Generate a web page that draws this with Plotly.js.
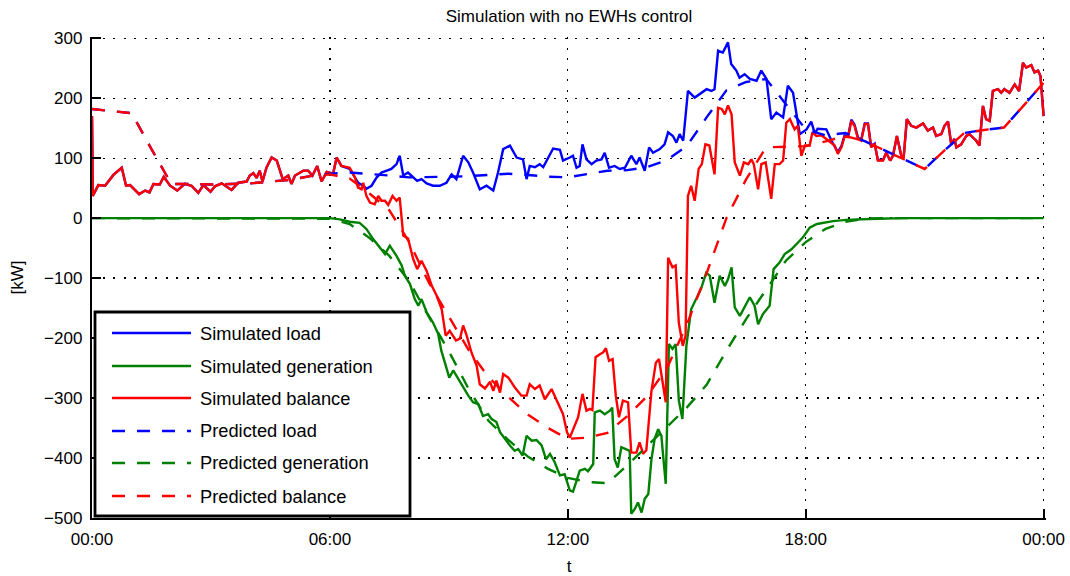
<!DOCTYPE html>
<html>
<head>
<meta charset="utf-8">
<script src="https://cdn.plot.ly/plotly-3.0.1.min.js"></script>
<style>html,body{margin:0;padding:0;background:#fff;}#chart{width:1070px;height:576px;}</style>
</head>
<body>
<div id="chart"></div>
<script>
// ---------- DATA (hours of day, kW) ----------
const tLoad = [0,0.02,0.16,0.33,0.54,0.75,0.86,0.96,1.19,1.34,1.45,1.55,1.71,1.81,1.97,2.15,2.34,2.51,2.68,2.81,2.99,3.10,3.27,3.52,3.69,3.90,3.98,4.07,4.15,4.23,4.30,4.40,4.53,4.66,4.81,4.95,5.03,5.12,5.33,5.45,5.56,5.68,5.79,5.92,6.08,6.17,6.29,6.50,
  6.71,6.84,6.92,7.05,7.18,7.30,7.55,7.68,7.76,7.85,7.97,8.10,8.20,8.31,8.44,8.60,8.77,8.94,9.07,9.19,9.36,9.49,9.61,9.78,9.95,10.12,10.24,10.37,10.54,10.71,10.87,10.96,11.04,11.17,11.29,11.38,11.50,11.63,11.80,11.88,
  12.05,12.13,12.22,12.30,12.37,12.47,12.60,12.72,12.85,12.93,13.04,13.18,13.31,13.44,13.60,13.73,13.81,13.94,14.05,14.15,14.32,14.44,14.53,14.65,14.74,14.82,14.91,15.03,15.20,15.33,15.50,15.62,15.70,15.79,15.91,16.04,16.12,16.25,16.33,16.46,16.59,16.76,16.88,17.01,17.13,17.26,17.43,17.55,17.68,17.85,18.02,18.14,18.23,18.30,18.52,18.65,
  18.81,18.90,18.98,19.07,19.15,19.23,19.32,19.40,19.49,19.57,19.65,19.74,19.82,19.95,20.03,20.13,20.20,20.30,20.41,20.47,20.55,20.66,20.79,20.96,21.08,21.21,21.29,21.42,21.50,21.59,21.67,21.75,21.80,21.92,22.05,22.13,22.30,22.38,22.47,22.55,22.64,22.72,22.85,22.93,23.01,23.14,23.27,23.38,23.48,23.56,23.69,23.77,23.86,23.92,24.00];
const simLoad = [170,37,55,54,72,84,54,55,40,46,43,57,56,69,54,46,57,54,42,55,44,53,58,47,59,61,71,75,67,79,61,84,101,96,65,71,57,71,79,79,71,87,61,77,74,101,87,82,
  59,54,49,54,68,76,82,90,104,71,76,68,62,65,58,54,54,59,73,65,104,93,76,48,54,46,76,115,121,101,98,65,87,85,90,85,101,116,114,96,
  101,104,84,87,123,98,90,96,98,109,84,87,82,84,104,90,101,79,118,109,115,123,143,137,126,140,129,212,201,207,215,212,215,279,276,293,257,246,234,240,232,229,246,232,165,176,168,221,209,140,148,161,141,149,148,129,
  110,120,138,137,164,156,134,131,158,158,119,124,97,97,109,96,104,137,104,101,165,154,151,158,146,151,137,140,154,161,123,132,118,123,137,140,129,121,187,165,162,212,215,209,215,209,223,212,259,251,255,243,246,237,170];

const tGen = [0,6.00,6.25,6.50,6.75,6.92,7.09,7.39,7.51,7.68,7.81,7.89,8.02,8.14,8.23,8.31,8.44,8.60,8.73,8.81,8.90,9.01,9.11,9.23,9.36,9.49,9.61,9.74,9.86,9.99,10.08,10.20,10.29,10.41,10.54,10.66,10.75,10.86,10.96,11.09,11.21,11.34,11.45,11.55,11.67,11.80,11.92,
  12.05,12.13,12.22,12.30,12.43,12.51,12.64,12.68,12.81,12.93,13.06,13.12,13.18,13.26,13.35,13.44,13.56,13.60,13.69,13.77,13.86,13.94,14.03,14.11,14.19,14.28,14.36,14.40,14.47,14.55,14.64,14.72,14.80,14.89,14.99,
  15.11,15.28,15.36,15.49,15.58,15.70,15.83,15.96,16.04,16.13,16.21,16.34,16.46,16.59,16.71,16.80,16.92,17.09,17.19,17.34,17.47,17.64,17.80,17.93,18.10,18.27,18.35,18.69,19.02,19.36,19.80,20.50,24.00];
const simGen = [0,0,-2,-6,-8,-18,-35,-60,-46,-63,-79,-96,-110,-135,-146,-135,-157,-174,-193,-221,-241,-266,-254,-268,-282,-296,-307,-310,-330,-327,-335,-340,-357,-368,-379,-388,-385,-396,-363,-371,-370,-379,-402,-393,-407,-429,-427,
  -454,-456,-438,-421,-418,-422,-410,-324,-321,-327,-321,-316,-402,-416,-382,-385,-388,-493,-485,-474,-491,-468,-460,-402,-368,-352,-363,-393,-443,-210,-218,-210,-304,-335,-213,
  -152,-127,-118,-91,-96,-141,-96,-113,-102,-82,-149,-163,-149,-132,-146,-177,-160,-146,-85,-74,-60,-52,-41,-32,-16,-10,-9,-5,-3,-2,-1,0,0];

const tBal = [0,0.02,0.16,0.33,0.54,0.75,0.86,0.96,1.19,1.34,1.45,1.55,1.71,1.81,1.97,2.15,2.34,2.51,2.68,2.81,2.99,3.10,3.27,3.52,3.69,3.90,3.98,4.07,4.15,4.23,4.30,4.40,4.53,4.66,4.81,4.95,5.03,5.12,5.33,5.45,5.56,5.68,5.79,5.92,6.08,6.17,6.29,6.50,
  6.63,6.71,6.80,6.84,6.92,7.01,7.13,7.22,7.30,7.39,7.47,7.58,7.68,7.76,7.85,7.97,8.10,8.20,8.31,8.44,8.57,8.69,8.82,8.92,9.02,9.18,9.28,9.36,9.45,9.57,9.70,9.78,9.91,10.04,10.12,10.20,10.29,10.37,10.50,10.66,10.83,10.96,11.04,11.17,11.29,11.42,11.59,11.71,11.88,11.98,
  12.05,12.26,12.37,12.47,12.56,12.62,12.70,12.81,12.89,12.96,13.04,13.13,13.21,13.29,13.39,13.52,13.60,13.73,13.81,13.90,13.98,14.11,14.22,14.30,14.40,14.47,14.53,14.64,14.72,14.80,14.90,14.97,
  15.03,15.11,15.20,15.30,15.38,15.47,15.57,15.70,15.79,15.88,15.96,16.04,16.13,16.21,16.34,16.44,16.55,16.63,16.69,16.80,16.88,16.99,17.13,17.22,17.34,17.43,17.51,17.60,17.72,17.80,17.89,17.98,18.10,18.17,18.27,18.39,18.52,18.65,18.73,18.81,18.90,18.98,19.07,19.15,19.23,19.32,19.40,19.49,19.57,19.65,19.74,19.82,19.95,
  20.03,20.13,20.20,20.30,20.41,20.47,20.55,20.66,20.79,20.96,21.08,21.21,21.29,21.42,21.50,21.59,21.67,21.75,21.80,21.92,22.05,22.13,22.30,22.38,22.47,22.55,22.64,22.72,22.85,22.93,23.01,23.14,23.27,23.38,23.48,23.56,23.69,23.77,23.86,23.92,24.00];
const simBal = [170,37,55,54,72,84,54,55,40,46,43,57,56,69,54,46,57,54,42,55,44,53,58,47,59,61,71,75,67,79,61,84,101,96,65,71,57,71,79,79,71,87,61,77,74,101,87,84,
  68,51,48,59,37,26,23,37,29,29,22,37,29,34,-29,-34,-68,-85,-71,-88,-113,-129,-152,-196,-188,-204,-201,-179,-196,-224,-246,-277,-284,-273,-288,-271,-291,-260,-266,-282,-296,-296,-277,-285,-279,-302,-285,-302,-327,-357,
  -366,-332,-293,-321,-318,-320,-232,-227,-224,-217,-238,-235,-296,-332,-304,-307,-391,-391,-374,-393,-387,-288,-241,-235,-279,-307,-66,-82,-79,-175,-213,-196,
  37,54,29,82,90,123,121,73,184,182,173,188,173,93,71,93,90,98,90,48,90,93,32,90,90,96,159,165,148,154,104,121,121,143,137,138,132,126,121,107,118,136,135,162,154,132,129,157,157,118,123,96,96,
  109,96,104,137,104,101,165,154,151,158,146,151,137,140,154,161,123,132,118,123,137,140,129,121,187,165,162,212,215,209,215,209,223,212,259,251,255,243,246,237,170];

const tPred = [0,0.5,1,1.5,2,2.5,3,3.5,4,4.5,5,5.5,6,6.5,7,7.5,8,8.5,9,9.5,10,10.5,11,11.5,12,12.5,13,13.5,14,14.5,15,15.5,16,16.5,17,17.5,18,18.5,19,19.5,20,20.5,21,21.5,22,22.5,23,23.5,24];
const predLoad = [182,178,175,115,57,57,56,57,58,61,64,70,74,76,74,71,68,68,69,70,72,74,72,69,68,73,79,80,85,97,120,168,213,227,232,190,148,138,142,128,113,98,82,113,142,147,151,188,226];
const predGen  = [0,0,0,0,0,0,0,0,0,0,0,0,-1,-10,-33,-63,-105,-165,-222,-285,-338,-370,-398,-418,-433,-440,-442,-412,-380,-347,-316,-278,-221,-168,-120,-71,-40,-18,-6,-1,0,0,0,0,0,0,0,0,0];
const predBal  = [182,178,175,115,57,57,56,57,58,61,64,70,73,66,41,13,-40,-108,-165,-220,-265,-298,-328,-350,-368,-366,-358,-330,-297,-250,-178,-92,0,65,118,119,120,128,137,128,113,98,82,113,142,147,151,188,226];

const tickHours = [0,6,12,18,24];
const tickLabels = ['00:00','06:00','12:00','18:00','00:00'];
const seriesNames = ['Simulated load','Simulated generation','Simulated balance','Predicted load','Predicted generation','Predicted balance'];
const seriesColors = ['#0000ff','#008000','#ff0000','#0000ff','#008000','#ff0000'];
const seriesDash = ['solid','solid','solid','13px,12px','13px,12px','13px,12px'];

// ---------- PLOT ----------
const FONT = 'Liberation Sans, Arial, Helvetica, sans-serif';
const xs = [tLoad, tGen, tBal, tPred, tPred, tPred];
const ys = [simLoad, simGen, simBal, predLoad, predGen, predBal];
const traces = ys.map((y, i) => ({
  x: xs[i], y: y, type: 'scatter', mode: 'lines', name: seriesNames[i],
  line: {color: seriesColors[i], width: 2.4, dash: seriesDash[i]},
  showlegend: false, hoverinfo: 'skip'
}));

// plot-area geometry (pixels) used only to place the legend box
const ML = 92, MR = 24, MT = 37, MB = 58;
const PW = 1070 - ML - MR, PH = 576 - MT - MB;
const px = p => (p - ML) / PW;
const py = p => (576 - MB - p) / PH;

const legendRows = [333, 366, 398, 431, 463, 496];
const shapes = [{type: 'rect', xref: 'paper', yref: 'paper', x0: px(95), x1: px(410), y0: py(516), y1: py(312),
  line: {color: '#000', width: 2.8}, fillcolor: '#fff', layer: 'above'}];
const annotations = [];
seriesNames.forEach((n, i) => {
  shapes.push({type: 'line', xref: 'paper', yref: 'paper', x0: px(112), x1: px(191), y0: py(legendRows[i]), y1: py(legendRows[i]),
    line: {color: seriesColors[i], width: 2.4, dash: seriesDash[i]}, layer: 'above'});
  annotations.push({xref: 'paper', yref: 'paper', x: px(198), y: py(legendRows[i]), xanchor: 'left', yanchor: 'middle',
    text: n, showarrow: false, font: {family: FONT, size: 18.3, color: '#000'}});
});

const axisCommon = {
  showgrid: true, gridcolor: '#000', gridwidth: 1.3, griddash: '2px,8.5px',
  showline: true, linecolor: '#000', linewidth: 2.2, mirror: false,
  ticks: 'inside', ticklen: 9, tickwidth: 2, tickcolor: '#000',
  zeroline: false, tickfont: {family: FONT, size: 17, color: '#000'}, automargin: false
};

const layout = {
  width: 1070, height: 576,
  margin: {l: ML, r: MR, t: MT, b: MB, pad: 0},
  paper_bgcolor: '#fff', plot_bgcolor: '#fff',
  font: {family: FONT, size: 17, color: '#000'},
  title: {text: 'Simulation with no EWHs control', font: {family: FONT, size: 17, color: '#000'},
          x: 0.5, xref: 'paper', xanchor: 'center', y: 1 - 16/576, yref: 'container', yanchor: 'middle'},
  xaxis: Object.assign({}, axisCommon, {range: [0, 24.06], tickmode: 'array', tickvals: tickHours, ticktext: tickLabels,
    ticklabelstandoff: 4, title: {text: 't', font: {family: FONT, size: 17, color: '#000'}, standoff: 13}}),
  yaxis: Object.assign({}, axisCommon, {range: [-500, 302], tickmode: 'linear', tick0: 0, dtick: 100,
    ticklabelstandoff: 4, title: {text: '[kW]', font: {family: FONT, size: 17, color: '#000'}, standoff: 16}}),
  shapes: shapes,
  annotations: annotations,
  showlegend: false
};

Plotly.newPlot('chart', traces, layout, {displayModeBar: false, staticPlot: true});
</script>
</body>
</html>
